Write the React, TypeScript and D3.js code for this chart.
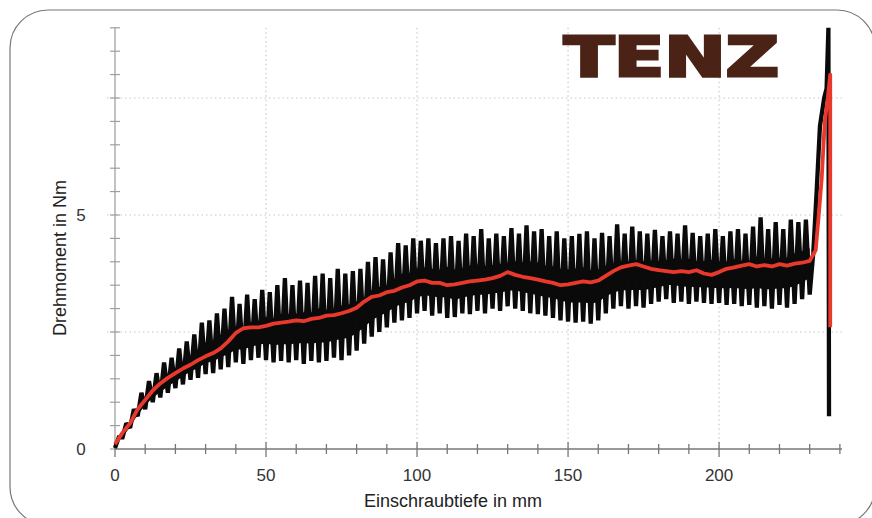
import React from "react";
import * as d3 from "d3";

// ---- data ----
const PITCH = 2.5; // mm between samples of the oscillation

// troughs of the raw torque signal at 0, 2.5, 5 ... 230 mm
const rawTroughs = [
  0.02, 0.25, 0.45, 0.7, 0.85, 1.0, 1.1, 1.2, 1.3, 1.38,
  1.48, 1.52, 1.6, 1.62, 1.7, 1.75, 1.85, 1.82, 1.9, 1.95,
  1.9, 1.85, 1.88, 1.85, 1.9, 1.82, 1.88, 1.85, 1.88, 1.95,
  1.9, 2.0, 2.1, 2.25, 2.4, 2.5, 2.6, 2.7, 2.75, 2.8,
  2.9, 2.95, 2.85, 2.9, 2.8, 2.82, 2.9, 2.88, 2.95, 2.9,
  3.0, 2.95, 3.05, 3.0, 2.95, 2.9, 2.88, 2.85, 2.8, 2.75,
  2.72, 2.7, 2.72, 2.68, 2.75, 2.9, 3.0, 3.05, 3.0, 3.05,
  3.02, 3.1, 3.15, 3.2, 3.12, 3.15, 3.1, 3.15, 3.12, 3.1,
  3.12, 3.08, 3.1, 3.05, 3.08, 3.02, 3.05, 3.0, 3.08, 3.02,
  3.1, 3.2, 3.3,
];

// peaks of the raw torque signal at 1.25, 3.75 ... 228.75 mm
const rawPeaks = [
  0.25, 0.55, 0.85, 1.2, 1.45, 1.62, 1.85, 1.95, 2.15, 2.3,
  2.45, 2.7, 2.75, 2.9, 3.0, 3.25, 3.1, 3.3, 3.2, 3.4,
  3.35, 3.5, 3.65, 3.5, 3.6, 3.55, 3.7, 3.75, 3.65, 3.85,
  3.75, 3.8, 3.85, 4.0, 4.1, 4.05, 4.2, 4.4, 4.35, 4.5,
  4.45, 4.5, 4.4, 4.5, 4.55, 4.45, 4.6, 4.55, 4.7, 4.5,
  4.6, 4.55, 4.72, 4.6, 4.78, 4.65, 4.7, 4.55, 4.65, 4.5,
  4.55, 4.6, 4.65, 4.5, 4.62, 4.55, 4.8, 4.6, 4.75, 4.65,
  4.6, 4.68, 4.55, 4.65, 4.6, 4.78, 4.62, 4.55, 4.6, 4.7,
  4.55, 4.65, 4.7, 4.6, 4.75, 4.95, 4.7, 4.85, 4.7, 4.9,
  4.85, 4.9,
];

// final tightening of the raw signal
const rawTailDepth = [231.2, 232.3, 233.4, 234.8, 235.6, 236.2, 236.4];
const rawTailTorque = [4.2, 5.5, 6.9, 7.5, 7.7, 9.0, 0.7];

// smoothed torque at 0, 2.5 ... 230 mm
const meanTorque = [
  0.1, 0.35, 0.55, 0.85, 1.05, 1.25, 1.4, 1.52, 1.62, 1.72,
  1.8, 1.9, 1.98, 2.05, 2.15, 2.3, 2.48, 2.58, 2.6, 2.6,
  2.63, 2.68, 2.7, 2.72, 2.75, 2.73, 2.78, 2.8, 2.85, 2.86,
  2.9, 2.95, 3.02, 3.15, 3.25, 3.28, 3.35, 3.38, 3.45, 3.5,
  3.58, 3.6, 3.55, 3.55, 3.5, 3.52, 3.55, 3.58, 3.6, 3.62,
  3.65, 3.7, 3.78, 3.72, 3.68, 3.65, 3.62, 3.58, 3.55, 3.5,
  3.52, 3.55, 3.58, 3.56, 3.6, 3.7, 3.8, 3.88, 3.92, 3.95,
  3.9, 3.85, 3.82, 3.8, 3.78, 3.8, 3.78, 3.82, 3.75, 3.72,
  3.78, 3.85, 3.88, 3.92, 3.95, 3.9, 3.93, 3.9, 3.95, 3.92,
  3.96, 3.98, 4.02,
];
const meanTailDepth = [232, 233, 234, 235, 236, 236.8, 236.8];
const meanTailTorque = [4.25, 5.0, 5.8, 7.0, 7.5, 8.0, 2.6];

const xMajorTicks = [0, 50, 100, 150, 200];
const xMinorTicks = d3.range(0, 241, 10);
const yLabelTicks = [0, 5];
const yGridTicks = [2.5, 5, 7.5];
const yMinorTicks = d3.range(0, 9.01, 0.5);

const xTitle = "Einschraubtiefe in mm";
const yTitle = "Drehmoment in Nm";
const logo = "TENZ";

export default function App() {
  const W = 872;
  const H = 518;
  const x = d3.scaleLinear().domain([0, 240.7]).range([115, 842]);
  const y = d3.scaleLinear().domain([0, 9]).range([449, 27.8]);

  const rawPts: [number, number][] = [];
  rawTroughs.forEach((t, i) => {
    rawPts.push([i * PITCH, t]);
    if (i < rawPeaks.length) rawPts.push([i * PITCH + PITCH / 2, rawPeaks[i]]);
  });
  rawTailDepth.forEach((d, i) => rawPts.push([d, rawTailTorque[i]]));

  // solid core in the middle of the raw band (spikes remain visible above and below)
  const core = rawPeaks.map((p, i) => {
    const lo = Math.max(rawTroughs[i], rawTroughs[i + 1]);
    const hiRef = Math.min(p, rawPeaks[Math.min(i + 1, rawPeaks.length - 1)]);
    return { d: i * PITCH + PITCH, lo: lo + (hiRef - lo) * 0.22, hi: lo + (hiRef - lo) * 0.62 };
  });

  const meanPts: [number, number][] = meanTorque.map((v, i) => [i * PITCH, v]);
  meanTailDepth.forEach((d, i) => meanPts.push([d, meanTailTorque[i]]));

  const line = d3
    .line<[number, number]>()
    .x((d) => x(d[0]))
    .y((d) => y(d[1]));
  const area = d3
    .area<{ d: number; lo: number; hi: number }>()
    .x((d) => x(d.d))
    .y0((d) => y(d.lo))
    .y1((d) => y(d.hi));

  const font = "'Liberation Sans', Arial, Helvetica, sans-serif";
  const x0 = x(0);
  const y0 = y(0);

  return (
    <svg
      width={W}
      height={H}
      style={{ position: "absolute", left: 0, top: 0, background: "#fff" }}
    >
      <rect x={10} y={10} width={865} height={515} rx={38} ry={38} fill="#fff" stroke="#777" strokeWidth={1.2} />

      {/* grid */}
      {xMajorTicks.filter((t) => t > 0).map((t) => (
        <line key={"gx" + t} x1={x(t)} x2={x(t)} y1={y(9)} y2={y0} stroke="#c8c8c8" strokeWidth={1.2} strokeDasharray="1.5,3" />
      ))}
      {yGridTicks.map((t) => (
        <line key={"gy" + t} x1={x0 - 8} x2={x(240.7)} y1={y(t)} y2={y(t)} stroke="#c8c8c8" strokeWidth={1.2} strokeDasharray="1.5,3" />
      ))}

      {/* axes */}
      <line x1={x0} x2={x0} y1={y(9)} y2={y0} stroke="#999" strokeWidth={1.2} />
      <line x1={x0} x2={x(240.7)} y1={y0} y2={y0} stroke="#777" strokeWidth={1.4} />
      {yMinorTicks.map((t) => (
        <line key={"ty" + t} x1={x0 - 5} x2={x0 + 5} y1={y(t)} y2={y(t)} stroke="#999" strokeWidth={1.1} />
      ))}
      {xMinorTicks.map((t) => {
        const major = xMajorTicks.includes(t);
        return (
          <line key={"tx" + t} x1={x(t)} x2={x(t)} y1={y0 - (major ? 7 : 5)} y2={y0 + (major ? 8 : 5)} stroke="#777" strokeWidth={1.3} />
        );
      })}

      {/* tick labels */}
      {xMajorTicks.map((t) => (
        <text key={"lx" + t} x={x(t)} y={481} textAnchor="middle" fontFamily={font} fontSize={17} fill="#333">
          {t}
        </text>
      ))}
      {yLabelTicks.map((t) => (
        <text key={"ly" + t} x={81} y={y(t) + 6} textAnchor="middle" fontFamily={font} fontSize={17} fill="#333">
          {t}
        </text>
      ))}

      {/* titles */}
      <text x={453} y={507} textAnchor="middle" fontFamily={font} fontSize={18} fill="#222">
        {xTitle}
      </text>
      <text
        transform={`translate(66,258) rotate(-90)`}
        textAnchor="middle"
        fontFamily={font}
        fontSize={18}
        fill="#222"
      >
        {yTitle}
      </text>

      {/* data */}
      <path d={area(core) || ""} fill="#0a0a0a" />
      <path d={line(rawPts) || ""} fill="none" stroke="#0a0a0a" strokeWidth={4.3} strokeLinejoin="miter" strokeMiterlimit={2} />
      <path d={line(meanPts) || ""} fill="none" stroke="#e8392c" strokeWidth={3.8} strokeLinejoin="round" />

      {/* logo */}
      <text
        x={564}
        y={76}
        fontFamily="'DejaVu Sans', sans-serif"
        fontWeight="bold"
        fontSize={55}
        textLength={215}
        lengthAdjust="spacingAndGlyphs"
        fill="#4a2316"
        stroke="#4a2316"
        strokeWidth={3}
        strokeLinejoin="miter"
      >
        {logo}
      </text>
    </svg>
  );
}
